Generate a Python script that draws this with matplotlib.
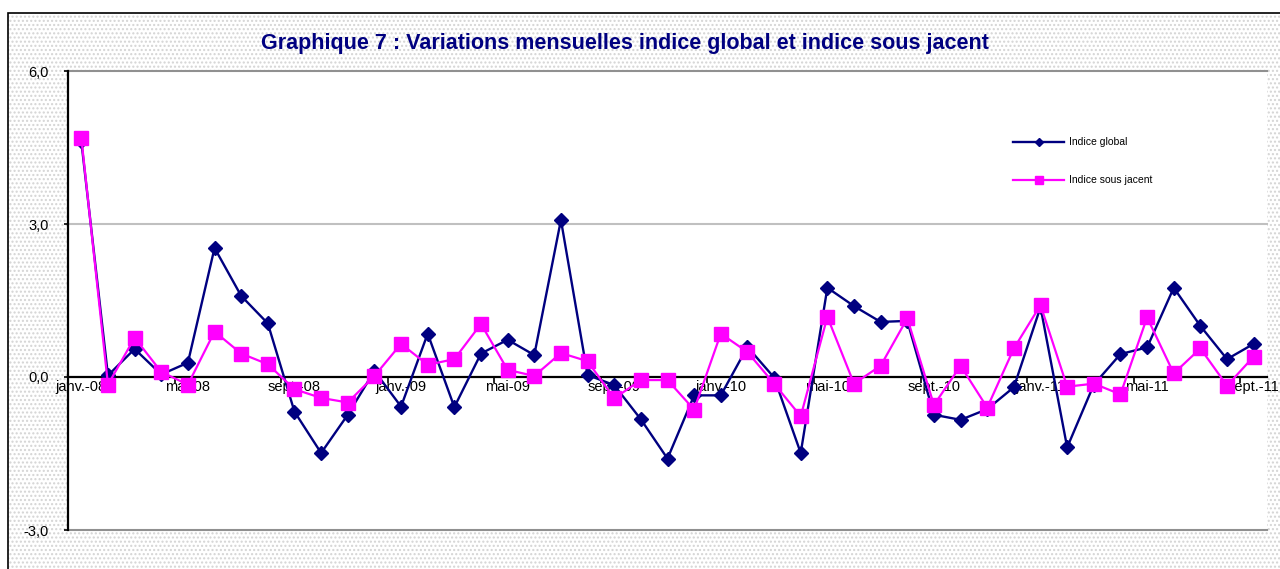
import matplotlib
matplotlib.use("Agg")
import matplotlib.pyplot as plt
from matplotlib.patches import Rectangle
from matplotlib.ticker import FixedLocator, FixedFormatter

plt.rcParams['font.family'] = ['Liberation Sans', 'DejaVu Sans']

month_names = ['janv.', 'févr.', 'mars', 'avr.', 'mai', 'juin',
               'juil.', 'août', 'sept.', 'oct.', 'nov.', 'déc.']
years = ['08', '09', '10', '11']
months = [f"{m}-{y}" for y in years for m in month_names][:45]

indice_global = [4.62, 0.03, 0.55, 0.05, 0.28, 2.53, 1.59, 1.05, -0.68, -1.49,
                 -0.74, 0.12, -0.58, 0.85, -0.59, 0.46, 0.73, 0.43, 3.08, 0.04,
                 -0.16, -0.83, -1.60, -0.36, -0.36, 0.59, -0.01, -1.49, 1.75, 1.39,
                 1.08, 1.10, -0.74, -0.84, -0.63, -0.20, 1.37, -1.38, -0.15, 0.45,
                 0.58, 1.75, 1.00, 0.35, 0.65]
indice_sous_jacent = [4.69, -0.15, 0.77, 0.10, -0.15, 0.89, 0.46, 0.25, -0.24, -0.41,
                      -0.50, 0.02, 0.65, 0.24, 0.35, 1.04, 0.14, 0.02, 0.47, 0.31,
                      -0.42, -0.06, -0.06, -0.64, 0.85, 0.49, -0.13, -0.77, 1.18, -0.13,
                      0.22, 1.15, -0.55, 0.22, -0.60, 0.56, 1.41, -0.19, -0.13, -0.34,
                      1.17, 0.07, 0.56, -0.17, 0.40]
y_ticks = [-3.0, 0.0, 3.0, 6.0]
y_tick_labels = ['-3,0', '0,0', '3,0', '6,0']

W, H = 1280, 569
fig = plt.figure(figsize=(12.8, 5.69), dpi=100)
fig.patch.set_facecolor('white')

# dotted chart-area background and border
bg = Rectangle((8 / W, -0.1), 1.2, 1 - 13 / H + 0.1, transform=fig.transFigure,
               facecolor='white', edgecolor='#d4d4d4', hatch='....', linewidth=0, zorder=-5)
fig.patches.append(bg)
border = Rectangle((8 / W, -0.1), 1.2, 1 - 13 / H + 0.1, transform=fig.transFigure,
                   fill=False, edgecolor='black', linewidth=1.2, zorder=-4)
fig.patches.append(border)

ax = fig.add_axes([68 / W, 39 / H, 1199 / W, 459 / H])
ax.set_facecolor('white')

x = list(range(len(months)))
ax.plot(x, indice_global, color='#000080', lw=1.7, marker='D', ms=7.0,
        mec='#000080', mfc='#000080', label='Indice global', zorder=3)
ax.plot(x, indice_sous_jacent, color='#FF00FF', lw=1.6, marker='s', ms=10.5,
        mec='#FF00FF', mfc='#FF00FF', label='Indice sous jacent', zorder=4)

ax.set_xlim(-0.5, len(months) - 0.5)
ax.set_ylim(-3.0, 6.0)

# gridlines
for yv, c in [(3.0, '#c0c0c0'), (6.0, '#909090'), (-3.0, '#909090')]:
    ax.axhline(yv, color=c, lw=1.5, zorder=1, clip_on=False)

for s in ['top', 'right']:
    ax.spines[s].set_visible(False)
ax.spines['bottom'].set_position(('data', 0))
ax.spines['bottom'].set_linewidth(1.6)
ax.spines['bottom'].set_zorder(2)
ax.spines['left'].set_linewidth(1.6)

ax.set_yticks(y_ticks)
ax.set_yticklabels(y_tick_labels)
ax.tick_params(axis='y', direction='out', length=3, width=1.2, pad=11, labelsize=10.5)

label_pos = list(range(0, len(months), 4))
ax.xaxis.set_major_locator(FixedLocator([p + 3.5 for p in range(-4, len(months), 4)]))
ax.xaxis.set_major_formatter(FixedFormatter([''] * 20))
ax.xaxis.set_minor_locator(FixedLocator(label_pos))
ax.xaxis.set_minor_formatter(FixedFormatter([months[i] for i in label_pos]))
ax.tick_params(axis='x', which='major', direction='out', length=4, width=1.2)
ax.tick_params(axis='x', which='minor', length=0, pad=2, labelsize=10.5)

ax.legend(loc='upper left', bbox_to_anchor=(1008 / W, 1 - 132 / H),
          bbox_transform=fig.transFigure, frameon=False, fontsize=7.5,
          handlelength=4.9, handletextpad=0.5, labelspacing=2.7,
          markerscale=0.55, borderpad=0)

fig.text(625 / W, 1 - 43 / H,
         'Graphique 7 : Variations mensuelles indice global et indice sous jacent',
         ha='center', va='center', fontsize=15.5, fontweight='bold', color='#000080')

fig.savefig('out.png', dpi=100)
